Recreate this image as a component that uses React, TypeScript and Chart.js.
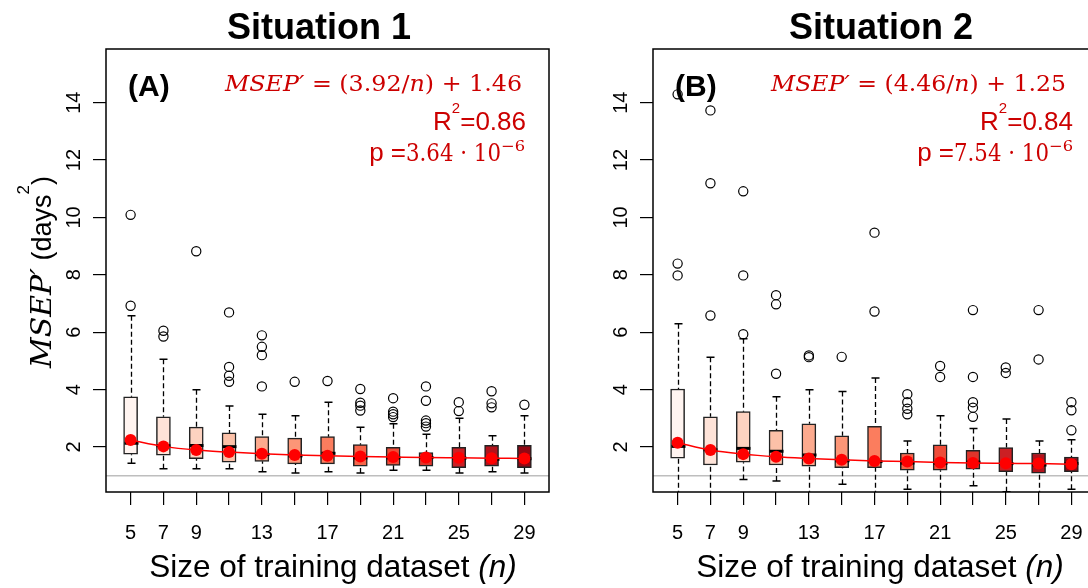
import React, { useEffect, useRef } from 'react';
import { Chart, registerables } from 'chart.js';

Chart.register(...registerables);

const SANS = '"Liberation Sans", Arial, Helvetica, sans-serif';
const SERIF = '"DejaVu Serif", "Liberation Serif", serif';
const RED_TEXT = '#CC0000';

// ---------- data ----------
const trainingSizes = [5, 7, 9, 11, 13, 15, 17, 19, 21, 23, 25, 27, 29];
const xTickLabels = ['5', '7', '9', '', '13', '', '17', '', '21', '', '25', '', '29'];
const yTickValues = [2, 4, 6, 8, 10, 12, 14];
const referenceLineValue = 1;
const boxColors = [
  '#FFF4F0', '#FEE3D8', '#FDD2C0', '#FCC1A8', '#FCAA8E', '#FC9677', '#FB7D5E',
  '#F6654A', '#EE4C39', '#DE352B', '#CB2024', '#B3131C', '#920814',
];

// Situation 1
const s1Lower = [1.43, 1.24, 1.24, 1.24, 1.14, 1.09, 1.14, 1.09, 1.19, 1.19, 1.09, 1.14, 1.09];
const s1Q1 = [1.75, 1.71, 1.59, 1.47, 1.5, 1.41, 1.41, 1.33, 1.36, 1.33, 1.28, 1.33, 1.28];
const s1Median = [2.13, 2.04, 2.05, 2.01, 1.74, 1.69, 1.78, 1.62, 1.62, 1.63, 1.61, 1.57, 1.59];
const s1Q3 = [3.75, 3.05, 2.69, 2.49, 2.36, 2.31, 2.36, 2.08, 1.99, 1.8, 1.99, 2.06, 2.06];
const s1Upper = [6.57, 5.06, 3.99, 3.43, 3.14, 3.09, 3.56, 2.69, 2.81, 2.44, 3.0, 2.39, 3.09];
const s1Mean = [2.24, 2.02, 1.89, 1.82, 1.76, 1.72, 1.69, 1.67, 1.65, 1.63, 1.62, 1.61, 1.6];
const s1Outliers = [
  [10.09, 6.92], [6.05, 5.85], [8.82], [6.69, 4.79, 4.48, 4.27], [5.89, 5.49, 5.2, 4.11],
  [4.27], [4.3], [4.02, 3.54, 3.44, 3.27], [3.7, 3.23, 3.14, 3.04], [4.11, 3.61, 2.92, 2.83, 2.71],
  [3.56, 3.25], [3.94, 3.52, 3.38], [3.47],
];

// Situation 2
const s2Lower = [0.3, 0.3, 0.87, 0.81, 0.3, 0.7, 0.3, 0.53, 0.3, 0.65, 0.44, 0.3, 0.53];
const s2Q1 = [1.61, 1.37, 1.47, 1.37, 1.33, 1.28, 1.28, 1.19, 1.19, 1.23, 1.14, 1.09, 1.14];
const s2Median = [2.02, 1.9, 1.95, 1.85, 1.72, 1.52, 1.49, 1.44, 1.43, 1.47, 1.42, 1.37, 1.42];
const s2Q3 = [4.02, 3.05, 3.23, 2.58, 2.81, 2.39, 2.72, 1.79, 2.07, 1.88, 1.98, 1.79, 1.65];
const s2Upper = [6.29, 5.13, 5.77, 3.75, 3.99, 3.93, 4.4, 2.21, 3.09, 2.64, 2.97, 2.21, 2.25];
const s2Mean = [2.15, 1.89, 1.75, 1.66, 1.6, 1.55, 1.51, 1.49, 1.46, 1.44, 1.43, 1.42, 1.4];
const s2Outliers = [
  [14.29, 8.39, 7.98], [13.73, 11.19, 6.58], [10.91, 7.98, 5.93], [7.29, 6.97, 4.55], [5.19, 5.13],
  [5.14], [9.47, 6.72], [3.84, 3.56, 3.33, 3.14], [4.82, 4.44], [6.77, 4.44, 3.56, 3.37, 3.05],
  [4.77, 4.58], [6.77, 5.05], [3.56, 3.28, 2.58],
];

// texts
const panelTitles = ['Situation 1', 'Situation 2'];
const panelTags = ['(A)', '(B)'];
const fitSlopes = ['3.92', '4.46'];
const fitIntercepts = ['1.46', '1.25'];
const rSquared = ['0.86', '0.84'];
const pMantissas = ['3.64', '7.54'];
const pExponent = '\u22126';
const xAxisTitle = 'Size of training dataset ';
const xAxisVariable = '(n)';
const yAxisVariable = 'MSEP\u2032';
const yAxisUnit = ' (days';

// ---------- layout (positions only) ----------
const CANVAS_W = 560;
const CANVAS_H = 588;
const PLOT_TOP = 49;
const PLOT_BOTTOM = 492;
const Y_MIN = 0.43;
const Y_MAX = 15.87;
const X_MIN = 3.5;
const X_MAX = 30.5;

const panelLayouts = [
  { canvasLeft: 0, plotLeft: 106, plotRight: 549, titleX: 319, tagX: 128, eqRight: 522, eqWidth: 297, r2Right: 526, pRight: 525, yTitle: true },
  { canvasLeft: 560, plotLeft: 93, plotRight: 536, titleX: 321, tagX: 115, eqRight: 506, eqWidth: 295, r2Right: 513, pRight: 513, yTitle: false },
];

const panelData = [
  { lower: s1Lower, q1: s1Q1, median: s1Median, q3: s1Q3, upper: s1Upper, mean: s1Mean, outliers: s1Outliers },
  { lower: s2Lower, q1: s2Q1, median: s2Median, q3: s2Q3, upper: s2Upper, mean: s2Mean, outliers: s2Outliers },
];

type Run = { text: string; font: string; dy?: number; w?: number };

function drawRuns(
  ctx: CanvasRenderingContext2D,
  runs: Run[],
  x: number,
  y: number,
  align: 'left' | 'center' | 'right',
  color: string,
  fitWidth?: number
) {
  ctx.save();
  ctx.fillStyle = color;
  ctx.textAlign = 'left';
  ctx.textBaseline = 'alphabetic';
  const naturals = runs.map((r) => {
    ctx.font = r.font;
    return ctx.measureText(r.text).width;
  });
  const widths = runs.map((r, i) => (r.w != null ? r.w : naturals[i]));
  const total = widths.reduce((a, b) => a + b, 0);
  const k = fitWidth ? fitWidth / total : 1;
  const span = total * k;
  const start = align === 'left' ? x : align === 'center' ? x - span / 2 : x - span;
  ctx.translate(start, y);
  ctx.scale(k, 1);
  let cx = 0;
  runs.forEach((r, i) => {
    ctx.save();
    ctx.font = r.font;
    ctx.translate(cx, r.dy || 0);
    ctx.scale(naturals[i] > 0 ? widths[i] / naturals[i] : 1, 1);
    ctx.fillText(r.text, 0, 0);
    ctx.restore();
    cx += widths[i];
  });
  ctx.restore();
}

function Panel({ index }: { index: number }) {
  const ref = useRef<HTMLCanvasElement>(null);
  const L = panelLayouts[index];

  useEffect(() => {
    const canvas = ref.current;
    if (!canvas) return;
    const d = panelData[index];

    const boxData = trainingSizes.map((n, i) => ({ x: n, y: [d.q1[i], d.q3[i]] }));
    const outlierData: { x: number; y: number }[] = [];
    trainingSizes.forEach((n, i) => d.outliers[i].forEach((v) => outlierData.push({ x: n, y: v })));
    const meanData = trainingSizes.map((n, i) => ({ x: n, y: d.mean[i] }));

    const plugin = {
      id: 'boxplotParts' + index,
      beforeDatasetsDraw(chart: any) {
        const { ctx, chartArea: a, scales } = chart;
        const xs = scales.x;
        const ys = scales.y;
        ctx.save();
        ctx.beginPath();
        ctx.rect(a.left, a.top, a.right - a.left, a.bottom - a.top);
        ctx.clip();
        const yr = ys.getPixelForValue(referenceLineValue);
        ctx.strokeStyle = '#BEBEBE';
        ctx.lineWidth = 1.5;
        ctx.beginPath();
        ctx.moveTo(a.left, yr);
        ctx.lineTo(a.right, yr);
        ctx.stroke();
        ctx.strokeStyle = '#000';
        trainingSizes.forEach((n, i) => {
          const cx = Math.round(xs.getPixelForValue(n)) + 0.5;
          ctx.lineWidth = 1.3;
          ctx.setLineDash([5, 3]);
          ctx.beginPath();
          ctx.moveTo(cx, ys.getPixelForValue(d.upper[i]));
          ctx.lineTo(cx, ys.getPixelForValue(d.q3[i]));
          ctx.moveTo(cx, ys.getPixelForValue(d.lower[i]));
          ctx.lineTo(cx, ys.getPixelForValue(d.q1[i]));
          ctx.stroke();
          ctx.setLineDash([]);
          ctx.lineWidth = 1.5;
          ctx.beginPath();
          [d.upper[i], d.lower[i]].forEach((v) => {
            const py = ys.getPixelForValue(v);
            ctx.moveTo(cx - 4, py);
            ctx.lineTo(cx + 4, py);
          });
          ctx.stroke();
        });
        ctx.restore();
      },
      afterDatasetDraw(chart: any, args: any) {
        if (args.index !== 0) return;
        const { ctx, scales } = chart;
        ctx.save();
        ctx.strokeStyle = '#000';
        ctx.lineWidth = 3;
        trainingSizes.forEach((n, i) => {
          const cx = Math.round(scales.x.getPixelForValue(n)) + 0.5;
          const py = scales.y.getPixelForValue(d.median[i]);
          ctx.beginPath();
          ctx.moveTo(cx - 7, py);
          ctx.lineTo(cx + 7, py);
          ctx.stroke();
        });
        ctx.restore();
      },
      afterDraw(chart: any) {
        const { ctx, chartArea: a, scales } = chart;
        ctx.save();
        ctx.strokeStyle = '#000';
        ctx.lineWidth = 1.5;
        ctx.strokeRect(a.left, a.top, a.right - a.left, a.bottom - a.top);
        ctx.restore();

        // title and tag
        drawRuns(ctx, [{ text: panelTitles[index], font: `bold 36px ${SANS}` }], L.titleX, 39, 'center', '#000');
        drawRuns(ctx, [{ text: panelTags[index], font: `bold 30px ${SANS}` }], L.tagX, 96, 'left', '#000');

        // fitted model annotation
        drawRuns(
          ctx,
          [
            { text: yAxisVariable, font: `italic 22px ${SERIF}` },
            { text: ` = (${fitSlopes[index]}/`, font: `22px ${SERIF}` },
            { text: 'n', font: `italic 22px ${SERIF}` },
            { text: `) + ${fitIntercepts[index]}`, font: `22px ${SERIF}` },
          ],
          L.eqRight, 90.5, 'right', RED_TEXT, L.eqWidth
        );
        drawRuns(
          ctx,
          [
            { text: 'R', font: `26px ${SANS}` },
            { text: '2', font: `15px ${SANS}`, dy: -17 },
            { text: `=${rSquared[index]}`, font: `26px ${SANS}` },
          ],
          L.r2Right, 130, 'right', RED_TEXT
        );
        drawRuns(
          ctx,
          [
            { text: 'p =', font: `26px ${SANS}` },
            { text: `${pMantissas[index]} \u00B7 10`, font: `24px ${SERIF}`, w: 95 },
            { text: pExponent, font: `15px ${SERIF}`, dy: -10, w: 24 },
          ],
          L.pRight, 161, 'right', RED_TEXT
        );

        // y tick labels (rotated like R)
        yTickValues.forEach((v) => {
          ctx.save();
          ctx.translate(L.plotLeft - 26, scales.y.getPixelForValue(v));
          ctx.rotate(-Math.PI / 2);
          drawRuns(ctx, [{ text: String(v), font: `20px ${SANS}` }], 0, 0, 'center', '#000');
          ctx.restore();
        });

        // y axis title
        if (L.yTitle) {
          ctx.save();
          ctx.translate(51, 272);
          ctx.rotate(-Math.PI / 2);
          drawRuns(
            ctx,
            [
              { text: yAxisVariable, font: `italic 27px ${SERIF}`, w: 100 },
              { text: yAxisUnit, font: `27px ${SANS}` },
              { text: '2', font: `17px ${SANS}`, dy: -22 },
              { text: ')', font: `27px ${SANS}` },
            ],
            0, 0, 'center', '#000'
          );
          ctx.restore();
        }

        // x axis title
        drawRuns(
          ctx,
          [
            { text: xAxisTitle, font: `31.5px ${SANS}` },
            { text: xAxisVariable, font: `italic 31.5px ${SANS}` },
          ],
          (a.left + a.right) / 2 + 5.5, 577, 'center', '#000'
        );
      },
    };

    const chart = new Chart(canvas, {
      type: 'bar',
      data: {
        datasets: [
          {
            type: 'bar',
            data: boxData as any,
            backgroundColor: boxColors,
            borderColor: '#222222',
            borderWidth: 1.5,
            borderSkipped: false,
            barThickness: 14,
            order: 3,
          } as any,
          {
            type: 'scatter',
            data: outlierData,
            pointStyle: 'circle',
            pointRadius: 4.6,
            pointBorderWidth: 1.2,
            pointBorderColor: '#000',
            pointBackgroundColor: 'rgba(0,0,0,0)',
            showLine: false,
            order: 2,
          } as any,
          {
            type: 'line',
            data: meanData,
            borderColor: '#FF0000',
            borderWidth: 1.5,
            pointRadius: 6,
            pointBorderWidth: 0,
            pointBackgroundColor: '#FF0000',
            cubicInterpolationMode: 'monotone',
            fill: false,
            order: 1,
          } as any,
        ],
      },
      options: {
        responsive: false,
        maintainAspectRatio: false,
        animation: false,
        devicePixelRatio: 1,
        events: [],
        layout: { padding: { left: 0, top: PLOT_TOP, right: CANVAS_W - L.plotRight, bottom: 0 } },
        plugins: { legend: { display: false }, tooltip: { enabled: false }, title: { display: false } },
        scales: {
          x: {
            type: 'linear',
            min: X_MIN,
            max: X_MAX,
            offset: false,
            bounds: 'data',
            afterBuildTicks: (s: any) => {
              s.ticks = trainingSizes.map((v) => ({ value: v }));
            },
            afterFit: (s: any) => {
              s.height = CANVAS_H - PLOT_BOTTOM;
            },
            ticks: {
              autoSkip: false,
              maxRotation: 0,
              minRotation: 0,
              padding: 16,
              color: '#000',
              font: { size: 20, family: SANS },
              callback: (_v: any, i: number) => xTickLabels[i],
            },
            grid: { display: true, offset: false, drawOnChartArea: false, drawTicks: true, tickLength: 13, color: '#000', lineWidth: 1.2 },
            border: { display: false },
          },
          y: {
            type: 'linear',
            min: Y_MIN,
            max: Y_MAX,
            bounds: 'data',
            afterBuildTicks: (s: any) => {
              s.ticks = yTickValues.map((v) => ({ value: v }));
            },
            afterFit: (s: any) => {
              s.width = L.plotLeft;
            },
            ticks: { display: false },
            grid: { display: true, drawOnChartArea: false, drawTicks: true, tickLength: 13, color: '#000', lineWidth: 1.2 },
            border: { display: false },
          },
        },
      } as any,
      plugins: [plugin],
    });
    return () => chart.destroy();
  }, [index]);

  return (
    <canvas
      ref={ref}
      width={CANVAS_W}
      height={CANVAS_H}
      style={{ position: 'absolute', left: L.canvasLeft, top: 0, width: CANVAS_W, height: CANVAS_H }}
    />
  );
}

export default function App() {
  return (
    <div
      style={{
        position: 'fixed',
        left: 0,
        top: 0,
        width: 1088,
        height: 588,
        overflow: 'hidden',
        background: '#fff',
      }}
    >
      <Panel index={0} />
      <Panel index={1} />
    </div>
  );
}
